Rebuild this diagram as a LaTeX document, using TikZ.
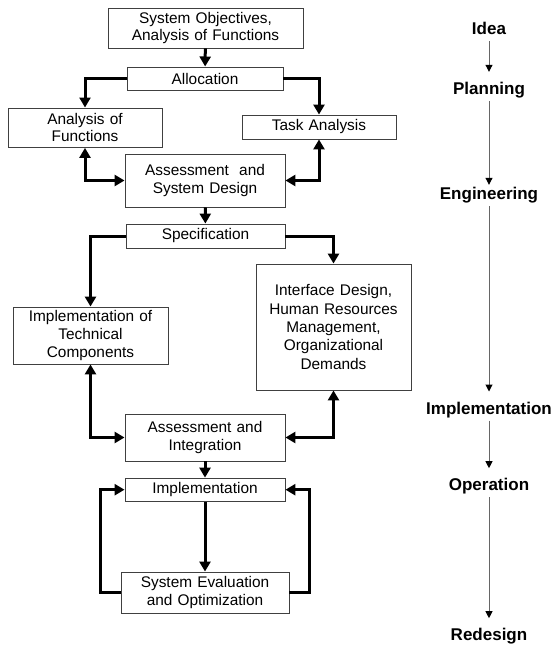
\documentclass[tikz,border=0pt]{standalone}
\usepackage{fontspec}
\setmainfont{Liberation Sans}
\usetikzlibrary{arrows.meta}
\begin{document}
\begin{tikzpicture}[x=1pt,y=-1pt,
  Big/.tip={Triangle[width=11pt,length=10pt]},
  Small/.tip={Triangle[width=7pt,length=7pt,color=black,fill=black]},
  box/.style={draw=black!75,line width=0.9pt,fill=white,inner sep=0pt,align=center,
    font=\fontsize{15.4}{18.3}\selectfont},
  conn/.style={line width=3pt,black},
  phase/.style={inner sep=0pt,anchor=base,text height=12.3pt,text depth=0pt,
    font=\fontsize{17}{20}\selectfont\bfseries},
  flow/.style={draw=black!60,line width=1pt,-Small,shorten <=6.5pt,shorten >=10pt}]
\useasboundingbox (0,0) rectangle (555,645);

% left column: system design process
\node[box,text width=195pt,minimum height=40pt,font=\fontsize{15.4}{16.7}\selectfont]
  (SO) at (205.5,28) {System Objectives,\\Analysis of Functions};
\node[box,text width=156pt,minimum height=23.5pt] (AL) at (205,78.7) {Allocation};
\node[box,text width=154pt,minimum height=39.5pt,font=\fontsize{15.4}{17.3}\selectfont]
  (AF) at (85,127.7) {Analysis of\\Functions};
\node[box,text width=154pt,minimum height=24pt] (TA) at (319,127) {Task Analysis};
\node[box,text width=160pt,minimum height=53pt] (ASD) at (205,180.5) {Assessment~ and\\System Design};
\node[box,text width=159pt,minimum height=24pt] (SP) at (205.5,236) {Specification};
\node[box,text width=155pt,minimum height=57pt] (ITC) at (90.5,335.5)
  {Implementation of\\Technical\\Components};
\node[box,text width=155pt,minimum height=126pt] (IF) at (333.5,327)
  {Interface Design,\\Human Resources\\Management,\\Organizational\\Demands};
\node[box,text width=160pt,minimum height=47pt] (AI) at (205,437.5) {Assessment and\\Integration};
\node[box,text width=160pt,minimum height=23.3pt] (IM) at (205,489.7) {Implementation};
\node[box,text width=168pt,minimum height=41pt] (SE) at (205,592.5)
  {System Evaluation\\and Optimization};

\draw[conn,-Big] (SO) -- (AL);
\draw[conn,-Big] (AL.west) -| (AF.north);
\draw[conn,-Big] (AL.east) -| (TA.north);
\draw[conn,Big-Big] (AF.south) |- (ASD.west);
\draw[conn,Big-Big] (TA.south) |- (ASD.east);
\draw[conn,-Big] (ASD) -- (SP);
\draw[conn,-Big] (SP.west) -| (ITC.north);
\draw[conn,-Big] (SP.east) -| (IF.north);
\draw[conn,Big-Big] (ITC.south) |- (AI.west);
\draw[conn,Big-Big] (IF.south) |- (AI.east);
\draw[conn,-Big] (AI) -- (IM);
\draw[conn,-Big] (IM) -- (SE);
\draw[conn,-Big] (SE.west) -- ++(-20,0) |- (IM.west);
\draw[conn,-Big] (SE.east) -- ++(20,0) |- (IM.east);

% right column: life-cycle phases
\node[phase] (P1) at (489,34.3) {Idea};
\node[phase] (P2) at (489,94.3) {Planning};
\node[phase] (P3) at (489,199.3) {Engineering};
\node[phase] (P4) at (489,414) {Implementation};
\node[phase] (P5) at (489,490.7) {Operation};
\node[phase] (P6) at (489,640.7) {Redesign};

\draw[flow] (P1.south) -- (P2.north);
\draw[flow,shorten >=2pt] (P2.south) -- (P3.north);
\draw[flow] (P3.south) -- (P4.north);
\draw[flow] (P4.south) -- (P5.north);
\draw[flow] (P5.south) -- (P6.north);
\end{tikzpicture}
\end{document}
